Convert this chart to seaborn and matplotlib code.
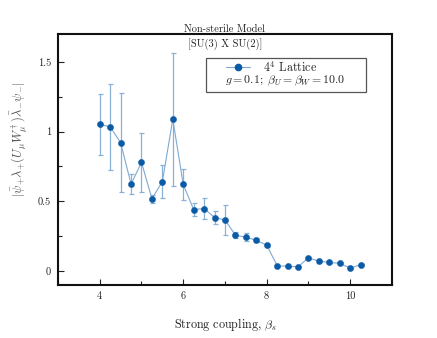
import numpy as np
import pandas as pd
import seaborn as sns
import matplotlib
matplotlib.use("Agg")
import matplotlib.pyplot as plt
from matplotlib.lines import Line2D
from matplotlib.patches import Rectangle
from matplotlib.ticker import FormatStrFormatter, MultipleLocator

beta_s = [4.0, 4.25, 4.5, 4.75, 5.0, 5.25, 5.5, 5.75, 6.0, 6.25, 6.5, 6.75, 7.0,
          7.25, 7.5, 7.75, 8.0, 8.25, 8.5, 8.75, 9.0, 9.25, 9.5, 9.75, 10.0, 10.25]
value = [1.053, 1.034, 0.921, 0.624, 0.779, 0.519, 0.641, 1.089, 0.621, 0.441,
         0.448, 0.384, 0.367, 0.257, 0.243, 0.221, 0.186, 0.038, 0.034, 0.031,
         0.095, 0.071, 0.062, 0.055, 0.021, 0.046]
error = [0.22, 0.31, 0.355, 0.073, 0.21, 0.03, 0.12, 0.477, 0.11, 0.045,
         0.075, 0.045, 0.11, 0.02, 0.03, 0.015, 0.01, 0.004, 0.004, 0.004,
         0.005, 0.004, 0.004, 0.004, 0.004, 0.004]

title_lines = ["Non-sterile Model", "[SU(3) X SU(2)]"]
legend_label = r"$4^4$ Lattice"
legend_note = r"$g = 0.1;\ \beta_U = \beta_W = 10.0$"
xlabel = r"Strong coupling, $\beta_s$"
ylabel = r"$|\bar{\psi}_{+}\lambda_{+}(U_\mu W_\mu^\dagger)\bar{\lambda}_{-}\psi_{-}|$"

df = pd.DataFrame({"beta_s": beta_s, "value": value, "error": error})

sns.set_style("ticks")
plt.rcParams["font.family"] = ["cmr10", "DejaVu Serif"]
plt.rcParams["mathtext.fontset"] = "cm"
plt.rcParams["axes.formatter.use_mathtext"] = True

dark = "#0b5aa5"
light = "#7fa9d3"
fs = 7.5

fig = plt.figure(figsize=(4.37, 3.38), dpi=100)
ax = fig.add_axes([0.1327, 0.1568, 0.897 - 0.1327, 0.8994 - 0.1568])

ax.errorbar(df["beta_s"], df["value"], yerr=df["error"], fmt="none",
            ecolor=light, elinewidth=0.9, capsize=1.8, capthick=0.9, alpha=0.9, zorder=1)
sns.lineplot(data=df, x="beta_s", y="value", ax=ax, color=light, linewidth=0.8,
             marker=None, zorder=2, legend=False)
sns.scatterplot(data=df, x="beta_s", y="value", ax=ax, color=dark, s=20,
                edgecolor=dark, linewidth=0.3, zorder=3, legend=False)

ax.set_xlim(3, 11)
ax.set_ylim(-0.1, 1.7)
ax.xaxis.set_major_locator(MultipleLocator(2))
ax.xaxis.set_minor_locator(MultipleLocator(1))
ax.yaxis.set_major_locator(MultipleLocator(0.5))
ax.yaxis.set_minor_locator(MultipleLocator(0.25))
ax.yaxis.set_major_formatter(FormatStrFormatter("%g"))
ax.xaxis.set_major_formatter(FormatStrFormatter("%g"))
ax.tick_params(which="both", direction="in", top=False, right=False,
               labelsize=fs, colors="#222222", width=0.8)
ax.tick_params(which="major", length=4.5, pad=5)
ax.tick_params(which="minor", length=3)
for side in ["left", "right", "top", "bottom"]:
    ax.spines[side].set_visible(True)
    ax.spines[side].set_linewidth(1.5)
    ax.spines[side].set_color("#111111")

ax.set_xlabel(xlabel, fontsize=8.7, color="#222222")
ax.xaxis.set_label_coords(0.5, -0.125)
ax.set_ylabel(ylabel, fontsize=9, color="#555555")
ax.yaxis.set_label_coords(-0.085, 0.58)

ax.text(0.5, 1.002, title_lines[0], transform=ax.transAxes, ha="center", va="bottom",
        fontsize=fs, color="#222222")
ax.text(0.5, 0.985, title_lines[1], transform=ax.transAxes, ha="center", va="top",
        fontsize=fs, color="#222222")

# legend frame drawn as a box, legend entry and note placed inside it
ax.add_patch(Rectangle((0.443, 0.769), 0.479, 0.135, transform=ax.transAxes,
                       facecolor="white", edgecolor="#555555", linewidth=0.9, zorder=4))
handle = Line2D([], [], color=light, linewidth=0.8, marker="o", markersize=4.5,
                markerfacecolor=dark, markeredgecolor=dark)
leg = ax.legend([handle], [legend_label], loc="center left",
                bbox_to_anchor=(0.503, 0.868), borderaxespad=0, fontsize=8.7,
                frameon=False, handlelength=2.0, handletextpad=1.08, borderpad=0.0)
leg.set_zorder(5)
ax.text(0.5, 0.812, legend_note, transform=ax.transAxes, ha="left", va="center",
        fontsize=8.5, color="#222222", zorder=6)

fig.savefig("out.png", dpi=100)
